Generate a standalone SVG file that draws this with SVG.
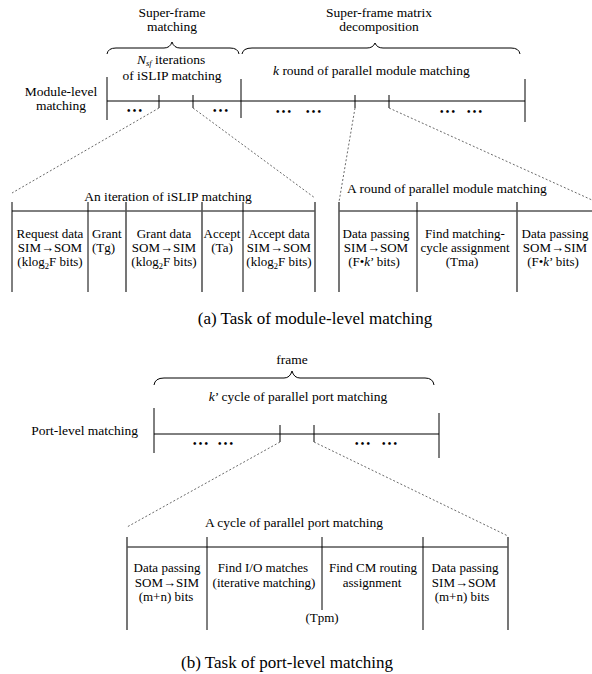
<svg xmlns="http://www.w3.org/2000/svg" width="592" height="674" viewBox="0 0 592 674">
<style>
text{font-family:"Liberation Serif","Times New Roman",serif;font-size:13.5px;fill:#000}
.c{font-size:13px}
.m{text-anchor:middle}
.e{text-anchor:end}
.cap{font-size:17px;text-anchor:middle}
.ln{stroke:#000;stroke-width:1;fill:none}
.gl{stroke:#555;stroke-width:1.6;fill:none}
.br{stroke:#000;stroke-width:1;fill:none}
.dash{stroke:#444;stroke-width:0.8;stroke-dasharray:2 2;fill:none}
.dot{font-size:10px;font-weight:bold;letter-spacing:2.2px}
.i{font-style:italic}
.sub{font-size:8.5px}
</style>

<!-- (a) headers -->
<g id="hdr-superframe">
<text class="m" x="172" y="17">Super-frame</text>
<text class="m" x="172" y="31">matching</text>
<path class="br" d="M107,54 Q108,48 116,48 L164,48 Q170,48 172,42 Q174,48 180,48 L230,48 Q238,48 239,54"/>
<text x="137" y="64"><tspan class="i">N</tspan><tspan class="sub i" dy="2">sf</tspan><tspan dy="-2">  iterations</tspan></text>
<text class="m" x="172" y="80">of iSLIP matching</text>
</g>
<g id="hdr-decomp">
<text class="m" x="379" y="17">Super-frame matrix</text>
<text class="m" x="379" y="31">decomposition</text>
<path class="br" d="M242,54 Q243,48 252,48 L367,48 Q373,48 375,43 Q377,48 383,48 L511,48 Q519,48 520,54"/>
<text x="273" y="75"><tspan class="i">k</tspan> round of parallel module matching</text>
</g>

<g id="timeline-a">
<text class="m" x="61" y="96">Module-level</text>
<text class="m" x="61" y="110">matching</text>
<path class="ln" d="M107,101 H525 M107,77 V120 M241,79 V118 M525,79 V122 M159,95 V108 M193,95 V108 M355,95 V108 M389,95 V108"/>
<text class="dot" x="127" y="114">•••</text>
<text class="dot" x="213" y="114">•••</text>
<text class="dot" x="276" y="115">•••</text>
<text class="dot" x="306" y="115">•••</text>
<text class="dot" x="440" y="115">•••</text>
<text class="dot" x="467" y="115">•••</text>
</g>

<!-- iteration panel -->
<g id="iteration-panel">
<text class="m" x="168" y="201">An iteration of iSLIP matching</text>
<path class="ln" d="M12,211 H315 M12,202 V292 M88,202 V292 M243,202 V292"/>
<path class="gl" d="M126,202 V292 M202,202 V292 M315,202 V292"/>
</g>
<g id="cell-request">
<text class="c m" x="50" y="238">Request data</text>
<text class="c m" x="50" y="252">SIM→SOM</text>
<text class="c m" x="50" y="266">(klog<tspan class="sub" dy="3">2</tspan><tspan dy="-3">F bits)</tspan></text>
</g>
<g id="cell-grant">
<text class="c" x="92" y="238">Grant</text>
<text class="c" x="92" y="252">(Tg)</text>
</g>
<g id="cell-grantdata">
<text class="c m" x="164" y="238">Grant data</text>
<text class="c m" x="164" y="252">SOM→SIM</text>
<text class="c m" x="164" y="266">(klog<tspan class="sub" dy="3">2</tspan><tspan dy="-3">F bits)</tspan></text>
</g>
<g id="cell-accept">
<text class="c m" x="222" y="238">Accept</text>
<text class="c m" x="222" y="252">(Ta)</text>
</g>
<g id="cell-acceptdata">
<text class="c m" x="279" y="238">Accept data</text>
<text class="c m" x="279" y="252">SIM→SOM</text>
<text class="c m" x="279" y="266">(klog<tspan class="sub" dy="3">2</tspan><tspan dy="-3">F bits)</tspan></text>
</g>

<!-- round panel -->
<g id="round-panel">
<text x="347" y="193">A round of parallel module matching</text>
<path class="ln" d="M339,211 H592 M417,202 V292"/>
<path class="gl" d="M339,202 V292 M517,202 V292"/>
</g>
<g id="cell-pass1">
<text class="c m" x="376" y="238">Data passing</text>
<text class="c m" x="376" y="252">SIM→SOM</text>
<text class="c m" x="374" y="266">(F•<tspan class="i">k</tspan>’ bits)</text>
</g>
<g id="cell-find">
<text class="c m" x="465" y="238">Find matching-</text>
<text class="c m" x="465" y="252">cycle assignment</text>
<text class="c m" x="462" y="266">(Tma)</text>
</g>
<g id="cell-pass2">
<text class="c m" x="555" y="238">Data passing</text>
<text class="c m" x="555" y="252">SOM→SIM</text>
<text class="c m" x="553" y="266">(F•<tspan class="i">k</tspan>’ bits)</text>
</g>

<text id="caption-a" class="cap" x="315" y="324">(a) Task of module-level matching</text>

<!-- (b) -->
<g id="hdr-frame">
<text class="m" x="292" y="364">frame</text>
<path class="br" d="M154,385 Q155,378 164,378 L284,378 Q290,378 292,371 Q294,378 300,378 L425,378 Q433,378 434,385"/>
<text class="m" x="298" y="401"><tspan class="i">k</tspan>’ cycle of parallel port matching</text>
</g>
<g id="timeline-b">
<text class="e" x="138" y="435">Port-level matching</text>
<path class="ln" d="M154,434 H439 M154,408 V453 M439,413 V458 M280,425 V442 M314,425 V442"/>
<text class="dot" x="193" y="447">•••</text>
<text class="dot" x="218" y="447">•••</text>
<text class="dot" x="355" y="447">•••</text>
<text class="dot" x="382" y="447">•••</text>
</g>

<g id="cycle-panel">
<text class="m" x="294" y="527">A cycle of parallel port matching</text>
<path class="ln" d="M127,547 H508 M207,537 V630 M322,537 V610 M423,537 V630"/>
<path class="gl" d="M127,537 V630 M508,537 V630"/>
</g>
<g id="cell-b-pass1">
<text class="c m" x="167" y="572">Data passing</text>
<text class="c m" x="167" y="587">SOM→SIM</text>
<text class="c m" x="166" y="601">(m+n) bits</text>
</g>
<g id="cell-b-find-io">
<text class="c m" x="263" y="572">Find I/O matches</text>
<text class="c m" x="264" y="587">(iterative matching)</text>
</g>
<g id="cell-b-find-cm">
<text class="c m" x="373" y="572">Find CM routing</text>
<text class="c m" x="372" y="587">assignment</text>
</g>
<text id="tpm" class="c m" x="322" y="622">(Tpm)</text>
<g id="cell-b-pass2">
<text class="c m" x="465" y="572">Data passing</text>
<text class="c m" x="464" y="587">SIM→SOM</text>
<text class="c m" x="462" y="601">(m+n) bits</text>
</g>

<text id="caption-b" class="cap" x="287" y="668">(b) Task of port-level matching</text>

<g id="connectors">
<path class="dash" d="M159,108 L12,193"/>
<path class="dash" d="M193,108 L315,198"/>
<path class="dash" d="M355,108 L339,202"/>
<path class="dash" d="M389,108 L592,200"/>
<path class="dash" d="M280,442 L127,527"/>
<path class="dash" d="M314,442 L508,536"/>
</g>
</svg>
